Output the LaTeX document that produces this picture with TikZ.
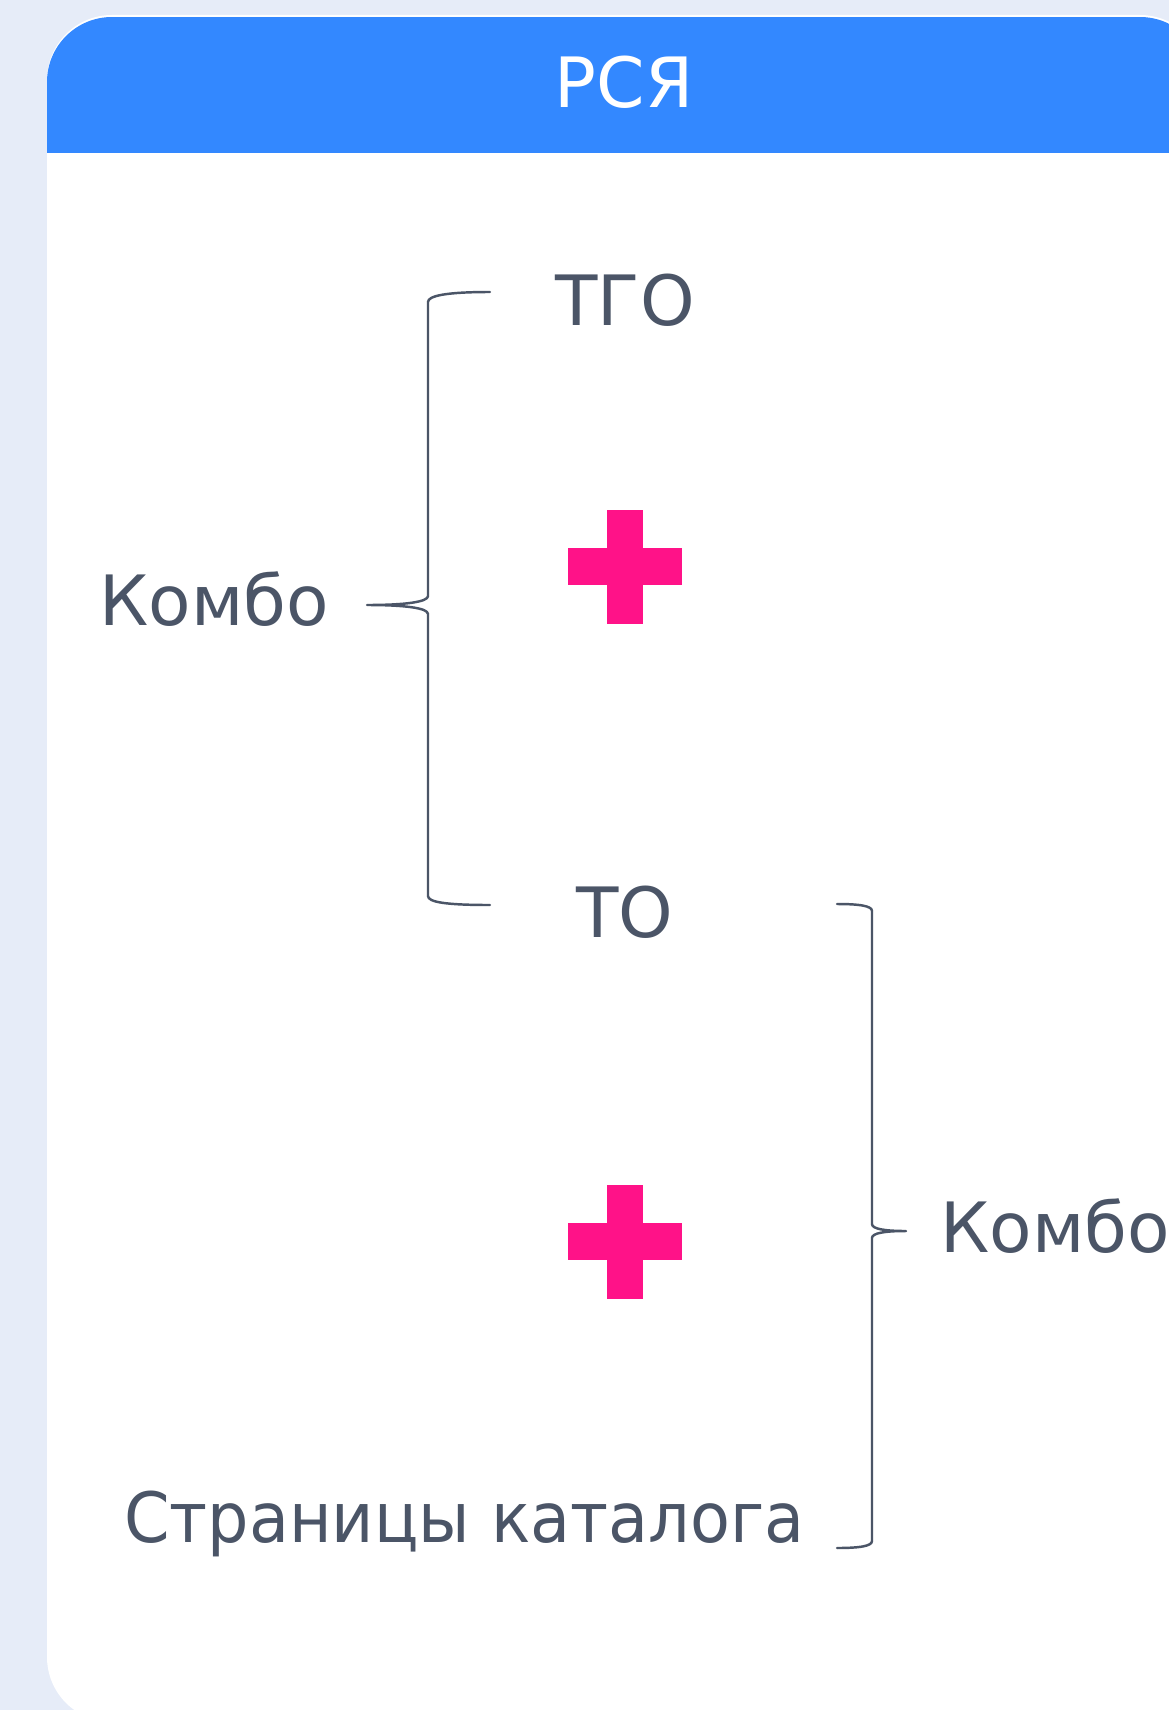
\documentclass[tikz,border=0pt]{standalone}
\usepackage{fontspec}
\setmainfont{DejaVu Sans}

\definecolor{pagebg}{HTML}{E6ECF8}
\definecolor{hdrblue}{HTML}{3388FF}
\definecolor{inkgray}{HTML}{4B5567}
\definecolor{plusred}{HTML}{FF1288}

\begin{document}
\begin{tikzpicture}[x=0.02cm, y=-0.02cm,
    lbl/.style={inner sep=0pt, font=\fontsize{39.5}{46}\selectfont, text=inkgray},
    ttl/.style={inner sep=0pt, font=\fontsize{39.5}{46}\selectfont, text=white},
    curly/.style={draw=inkgray, line width=1.4pt, line cap=round, line join=round},
    plus/.style={fill=plusred}
    ]
    \useasboundingbox (0,0) rectangle (1169,1710);
    \fill[pagebg] (0,0) rectangle (1169,1710);
    \clip (0,0) rectangle (1169,1710);

    % card with blue header
    \fill[white, rounded corners=1.3cm] (47,15) rectangle (1205,1722);
    \begin{scope}
      \clip[rounded corners=1.3cm] (47,17) rectangle (1205,1722);
      \fill[hdrblue] (47,17) rectangle (1205,153);
    \end{scope}

    \node[ttl, anchor=base] (title) at (624,108) {РСЯ};
    \node[lbl, anchor=base] (tgo) at (625,325) {ТГО};
    \node[lbl, anchor=base] (to) at (625,937) {ТО};
    \node[lbl, anchor=base west] (comboleft) at (99,625) {Комбо};
    \node[lbl, anchor=base west] (comboright) at (940,1252) {Комбо};
    \node[lbl, anchor=base west] (catalog) at (124,1542)
      {\addfontfeature{FakeStretch=0.94}Страницы каталога};

    % plus signs
    \foreach \cy in {567,1242} {
      \fill[plus] (607,\cy-57) rectangle (643,\cy+57);
      \fill[plus] (568,\cy-19) rectangle (682,\cy+18);
    }

    % braces
    \draw[curly] (490,292) .. controls (445,292) and (428,296) .. (428,302) -- (428,596)
      .. controls (428,602) and (405,605) .. (367,605)
      .. controls (405,605) and (428,608) .. (428,614) -- (428,896)
      .. controls (428,902) and (445,905) .. (490,905);
    \draw[curly] (837,904) .. controls (860,904) and (872,906) .. (872,911) -- (872,1224)
      .. controls (872,1229) and (885,1231) .. (906,1231)
      .. controls (885,1231) and (872,1233) .. (872,1238) -- (872,1541)
      .. controls (872,1546) and (860,1548) .. (837,1548);
  \end{tikzpicture}
\end{document}
